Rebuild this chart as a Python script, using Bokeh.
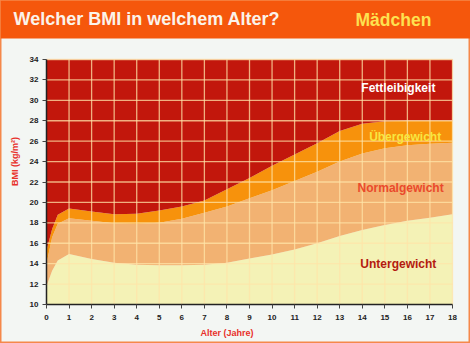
from math import pi
from bokeh.plotting import figure
from bokeh.models import Range1d, Label, FixedTicker, BoxAnnotation
from bokeh.embed import file_html
from bokeh.resources import INLINE

# --- data ---
ages = [0, 0.25, 0.5, 1, 2, 3, 4, 5, 6, 7, 8, 9, 10, 11, 12, 13, 14, 15, 16, 17, 18]
under_upper = [11.8, 13.3, 14.3, 14.95, 14.45, 14.1, 13.9, 13.85, 13.85, 13.9, 14.1,
               14.5, 14.9, 15.4, 16.0, 16.7, 17.3, 17.8, 18.2, 18.5, 18.85]
normal_upper = [14.0, 16.6, 17.9, 18.45, 18.2, 17.95, 17.9, 18.0, 18.4, 19.0, 19.6,
                20.4, 21.2, 22.1, 23.0, 24.0, 24.8, 25.3, 25.6, 25.75, 25.85]
over_upper = [15.3, 17.4, 18.8, 19.4, 19.1, 18.85, 18.9, 19.2, 19.6, 20.2, 21.3,
              22.4, 23.6, 24.7, 25.8, 27.0, 27.7, 27.95, 28.0, 28.0, 28.0]
x_min, x_max = 0, 18
y_min, y_max = 10, 34
x_ticks = list(range(0, 19))
y_ticks = list(range(10, 35, 2))
zone_names = ["Fettleibigkeit", "Übergewicht", "Normalgewicht", "Untergewicht"]
zone_label_x = [15.6, 15.9, 15.7, 15.6]
zone_label_y = [31.2, 26.45, 21.45, 14.0]
title_text = "Welcher BMI in welchem Alter?"
subtitle_text = "Mädchen"
x_title, x_title_at = "Alter (Jahre)", 8
y_title, y_title_at = "BMI (kg/m²)", 24

# --- layout (pixels) ---
W, H = 470, 343
PL, PR, PT, PB = 46, 452, 59, 304      # chart area in canvas pixels
HEADER = 38
FONT = "Liberation Sans"
ORANGE = "#f5570c"
BG = "#f3f6f3"

kx = (PR - PL) / (x_max - x_min)
ky = (PB - PT) / (y_max - y_min)
xr = Range1d(x_min - PL / kx, x_max + (W - PR) / kx)
yr = Range1d(y_min - (H - PB) / ky, y_max + PT / ky)

p = figure(width=W, height=H, output_backend="svg", toolbar_location=None,
           x_range=xr, y_range=yr, min_border=0)
p.background_fill_color = BG
p.border_fill_color = BG
p.outline_line_color = "#f5884a"
p.outline_line_width = 2
p.grid.visible = False

n = len(ages)
p.varea(x=ages, y1=[y_min] * n, y2=under_upper, fill_color="#f4f2b6")
p.varea(x=ages, y1=under_upper, y2=normal_upper, fill_color="#f2b272")
p.varea(x=ages, y1=normal_upper, y2=over_upper, fill_color="#f7920c")
p.varea(x=ages, y1=over_upper, y2=[y_max] * n, fill_color="#c2170c")

# grid lines limited to the chart area
grid_kw = dict(line_color="#ffe4a8", line_alpha=0.75, line_width=1.3)
p.segment(x0=x_ticks[1:], y0=[y_min] * (len(x_ticks) - 1),
          x1=x_ticks[1:], y1=[y_max] * (len(x_ticks) - 1), **grid_kw)
p.segment(x0=[x_min] * (len(y_ticks) - 1), y0=y_ticks[1:],
          x1=[x_max] * (len(y_ticks) - 1), y1=y_ticks[1:], **grid_kw)

# axes pinned to the chart area
p.xaxis.fixed_location = y_min
p.yaxis.fixed_location = x_min
p.xaxis.bounds = (x_min, x_max)
p.yaxis.bounds = (y_min, y_max)
p.xaxis.ticker = FixedTicker(ticks=x_ticks)
p.yaxis.ticker = FixedTicker(ticks=y_ticks)
for ax in (p.xaxis, p.yaxis):
    ax.axis_line_color = "#222222"
    ax.axis_line_width = 1.5
    ax.major_tick_line_color = "#444444"
    ax.major_tick_out = 4
    ax.major_tick_in = 0
    ax.minor_tick_line_color = None
    ax.major_label_text_font = FONT
    ax.major_label_text_font_style = "bold"
    ax.major_label_text_font_size = "8px"
    ax.major_label_text_color = "#222222"
p.xaxis.major_label_standoff = 6
p.yaxis.major_label_standoff = 4

# header band and titles
p.add_layout(BoxAnnotation(bottom=y_max + (PT - HEADER) / ky, fill_color=ORANGE,
                           fill_alpha=1, line_color=None))
p.add_layout(Label(x=13, y=H - 18, x_units="screen", y_units="screen",
                   text=title_text, text_font=FONT,
                   text_font_style="bold", text_font_size="18px", text_color="#fbf3ea",
                   text_baseline="middle"))
p.add_layout(Label(x=355, y=H - 19, x_units="screen", y_units="screen",
                   text=subtitle_text, text_font=FONT,
                   text_font_style="bold", text_font_size="17.5px", text_color="#fde250",
                   text_baseline="middle"))

# axis titles
p.add_layout(Label(x=14, y=y_title_at, x_units="screen", angle=pi / 2,
                   text=y_title, text_font=FONT, text_font_style="bold",
                   text_font_size="9px", text_color="#e8302a",
                   text_align="center", text_baseline="middle"))
p.add_layout(Label(x=x_title_at, y=H - 332, y_units="screen",
                   text=x_title, text_font=FONT, text_font_style="bold",
                   text_font_size="9px", text_color="#e8302a",
                   text_align="center", text_baseline="middle"))

zone_colors = ["#ffffff", "#f8e640", "#ea4a2c", "#b31a10"]
for name, lx, ly, c in zip(zone_names, zone_label_x, zone_label_y, zone_colors):
    p.add_layout(Label(x=lx, y=ly, text=name, text_font=FONT, text_font_style="bold",
                       text_font_size="12px", text_color=c,
                       text_align="center", text_baseline="middle"))

open("out.html", "w").write(file_html(p, INLINE))
